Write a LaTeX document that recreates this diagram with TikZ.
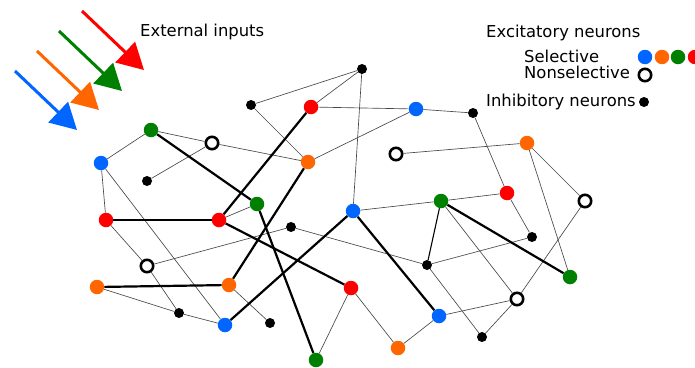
\documentclass[tikz,border=0pt]{standalone}
\usepackage{fontspec}
\setmainfont{DejaVu Sans}
\usetikzlibrary{arrows.meta}
\definecolor{nblue}{RGB}{0,102,255}
\definecolor{norange}{RGB}{255,102,0}
\definecolor{ngreen}{RGB}{0,128,0}
\definecolor{nred}{RGB}{255,0,0}

\begin{document}
\begin{tikzpicture}[x=1pt,y=-1pt,
  sel/.style={circle, inner sep=0pt, minimum size=14.5pt, fill=#1},
  nonsel/.style={circle, inner sep=0pt, minimum size=12.4pt, draw=black, line width=2.6pt, fill=white},
  inh/.style={circle, inner sep=0pt, minimum size=10pt, fill=black},
  weak/.style={line width=0.65pt, draw=black!72},
  medium/.style={line width=1.1pt, draw=black},
  strong/.style={line width=2.2pt, draw=black},
  inarrow/.style={line width=3pt, draw=#1, -{Triangle[length=26pt,width=28pt,fill=#1]}},
  legendtext/.style={anchor=base west, font=\fontsize{16.4}{19}\selectfont, inner sep=0pt}
]
\useasboundingbox (0,0) rectangle (695,367);

% external input arrows
\coordinate (ab0) at (15,71);  \coordinate (ab1) at (77,130);
\coordinate (ao0) at (37,51);  \coordinate (ao1) at (99,110);
\coordinate (ag0) at (59,31);  \coordinate (ag1) at (122,91);
\coordinate (ar0) at (82,11);  \coordinate (ar1) at (144,70);
\draw[inarrow=nblue]   (ab0) -- (ab1);
\draw[inarrow=norange] (ao0) -- (ao1);
\draw[inarrow=ngreen]  (ag0) -- (ag1);
\draw[inarrow=nred]    (ar0) -- (ar1);

% legend
\node[legendtext] (tin)  at (140,36)  {External inputs};
\node[legendtext] (texc) at (486,37)  {Excitatory neurons};
\node[legendtext] (tsel) at (524,62)  {Selective};
\node[legendtext] (tnon) at (524,78)  {Nonselective};
\node[legendtext] (tinh) at (486,106) {Inhibitory neurons};
\node[sel=nblue]   (lb) at (645,57) {};
\node[sel=norange] (lo) at (662,57) {};
\node[sel=ngreen]  (lg) at (678,57) {};
\node[sel=nred]    (lr) at (695,57) {};
\node[nonsel]      (ln) at (645,75) {};
\node[inh]         (lk) at (644,102) {};

% selective excitatory neurons
\node[sel=ngreen]  (g1) at (151,130) {};
\node[sel=ngreen]  (g2) at (257,204) {};
\node[sel=ngreen]  (g3) at (441,201) {};
\node[sel=ngreen]  (g4) at (570,277) {};
\node[sel=ngreen]  (g5) at (316,360) {};
\node[sel=nblue]   (b1) at (101,163) {};
\node[sel=nblue]   (b2) at (416,109) {};
\node[sel=nblue]   (b3) at (353,211) {};
\node[sel=nblue]   (b4) at (225,325) {};
\node[sel=nblue]   (b5) at (439,316) {};
\node[sel=nred]    (r1) at (311,107) {};
\node[sel=nred]    (r2) at (106,220) {};
\node[sel=nred]    (r3) at (219,220) {};
\node[sel=nred]    (r4) at (507,193) {};
\node[sel=nred]    (r5) at (351,288) {};
\node[sel=norange] (or1) at (308,162) {};
\node[sel=norange] (or2) at (527,143) {};
\node[sel=norange] (or3) at (97,287) {};
\node[sel=norange] (or4) at (229,285) {};
\node[sel=norange] (or5) at (398,348) {};

% nonselective excitatory neurons
\node[nonsel] (o1) at (212,143) {};
\node[nonsel] (o2) at (396,154) {};
\node[nonsel] (o3) at (585,201) {};
\node[nonsel] (o4) at (147,266) {};
\node[nonsel] (o5) at (517,299) {};

% inhibitory neurons
\node[inh] (k1)  at (147,181) {};
\node[inh] (k2)  at (251,105) {};
\node[inh] (k3)  at (362,69) {};
\node[inh] (k4)  at (473,113) {};
\node[inh] (k5)  at (291,227) {};
\node[inh] (k6)  at (532,237) {};
\node[inh] (k7)  at (427,265) {};
\node[inh] (k8)  at (179,313) {};
\node[inh] (k9)  at (270,323) {};
\node[inh] (k10) at (482,337) {};

% ordinary connections
\foreach \a/\b in {g1/b1, g1/o1, o1/k1, o1/or1, b1/r2, b1/b4, r2/o4, o4/k8,
                   o4/k5, k5/k7, or3/k8, k8/b4, or4/k9, r3/g2, k2/k3, k2/or1,
                   r1/k3, r1/b2, b2/k4, b2/or1, k3/b3, k4/r4, o2/or2, or2/o3,
                   or2/g4, b3/g3, g3/r4, g3/o5, r4/k6, k6/k7, k7/k10, o3/o5,
                   o5/b5, o5/k10, b5/or5, r5/or5, r5/g5}
  \draw[weak] (\a) -- (\b);
\draw[medium] (g3) -- (k7);

% strong connections between neurons of the same selectivity
\foreach \a/\b in {g1/g2, g2/g5, r1/r3, or1/or4, r2/r3, r3/r5, or3/or4,
                   b3/b4, b3/b5, g3/g4}
  \draw[strong] (\a) -- (\b);
\end{tikzpicture}
\end{document}
